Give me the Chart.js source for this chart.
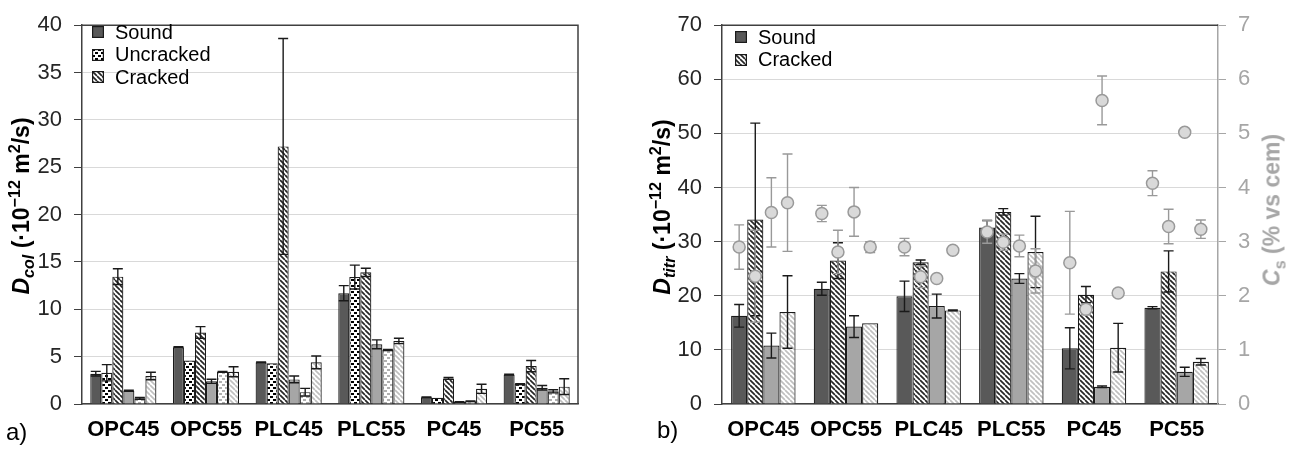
<!DOCTYPE html>
<html>
<head>
<meta charset="utf-8">
<title>Chloride diffusion coefficients</title>
<script src="https://cdn.jsdelivr.net/npm/chart.js@4.4.1/dist/chart.umd.min.js"></script>
<style>
  body { margin: 0; width: 1295px; height: 451px; background: #fff; overflow: hidden;
         font-family: "Liberation Sans", Arial, sans-serif; }
  .panel { position: absolute; top: 0; height: 451px; }
  #panelA { left: 0; width: 640px; }
  #panelB { left: 640px; width: 655px; }
  .ytitle { position: absolute; white-space: nowrap; font-weight: bold; font-size: 23px; line-height: 1;
            transform: translate(-50%, -50%) rotate(-90deg); color: #000; }
  .ytitle sub, .ytitle sup { font-size: 70%; line-height: 0; }
  .tag { position: absolute; font-size: 24px; line-height: 1; }
  .legend { position: absolute; font-size: 20px; color: #000; }
  .legend div { display: flex; align-items: center; height: 22.5px; white-space: nowrap; }
  .legend canvas { margin-right: 11px; }
</style>
</head>
<body>
<div class="panel" id="panelA">
  <canvas id="chartA" width="640" height="451"></canvas>
  <div class="ytitle" style="left:21px; top:206px;"><i>D</i><sub><i>col</i></sub> (·10<sup>−12</sup> m<sup>2</sup>/s)</div>
  <div class="legend" id="legendA" style="left:92px; top:21px;"></div>
  <div class="tag" style="left:6px; top:420px;">a)</div>
</div>
<div class="panel" id="panelB">
  <canvas id="chartB" width="655" height="451"></canvas>
  <div class="ytitle" style="left:22px; top:207px;"><i>D</i><sub><i>titr</i></sub> (·10<sup>−12</sup> m<sup>2</sup>/s)</div>
  <div class="ytitle" style="left:632px; top:210px; color:#a6a6a6;"><i>C</i><sub>s</sub> (% vs cem)</div>
  <div class="legend" id="legendB" style="left:95px; top:26px;"></div>
  <div class="tag" style="left:17px; top:418px;">b)</div>
</div>

<script>
const FONT = "'Liberation Sans', Arial, sans-serif";
Chart.defaults.font.family = FONT;
Chart.defaults.animation = false;

const groups = ['OPC45', 'OPC55', 'PLC45', 'PLC55', 'PC45', 'PC55'];

// a) D_col, dark bars and light bars (same three states)
const colSound        = [3.2, 6.0, 4.4, 11.7, 0.7, 3.1];
const colSoundErr     = [0.24, 0.05, 0.05, 0.8, 0.05, 0.05];
const colUncracked    = [3.3, 4.6, 4.3, 13.4, 0.66, 2.1];
const colUncrackedErr = [0.86, 0, 0, 1.26, 0, 0.05];
const colCracked      = [13.45, 7.55, 27.2, 13.9, 2.7, 4.0];
const colCrackedErr   = [0.83, 0.62, 11.4, 0.43, 0.1, 0.6];
const colSound2       = [1.4, 2.4, 2.6, 6.3, 0.2, 1.72];
const colSound2Err    = [0.07, 0.22, 0.35, 0.47, 0.03, 0.24];
const colUncracked2   = [0.6, 3.4, 1.25, 5.7, 0.3, 1.34];
const colUncracked2Err= [0.1, 0.05, 0.4, 0.05, 0.03, 0.17];
const colCracked2     = [2.96, 3.4, 4.4, 6.66, 1.6, 1.83];
const colCracked2Err  = [0.4, 0.53, 0.67, 0.28, 0.48, 0.83];

// b) D_titr bars
const titrSound       = [16.3, 21.3, 19.9, 32.6, 10.3, 17.8];
const titrSoundErr    = [2.1, 1.2, 2.8, 1.3, 3.8, 0.2];
const titrCracked     = [34.1, 26.5, 26.2, 35.5, 20.2, 24.5];
const titrCrackedErr  = [17.8, 3.3, 0.4, 0.6, 1.5, 3.8];
const titrSound2      = [10.8, 14.3, 18.1, 23.2, 3.2, 5.95];
const titrSound2Err   = [2.3, 2.0, 2.2, 0.9, 0.15, 0.85];
const titrCracked2    = [17.0, 14.9, 17.3, 28.1, 10.4, 7.8];
const titrCracked2Err = [6.7, 0, 0.1, 6.6, 4.5, 0.6];

// b) surface chloride Cs (right axis), one point over each bar
const csSound         = [2.9, 3.52, 2.9, 3.18, 2.61, 4.08];
const csSoundErr      = [0.41, 0.15, 0.16, 0.21, 0.95, 0.23];
const csCracked       = [2.36, 2.81, 2.35, 2.99, 1.75, 3.28];
const csCrackedErr    = [0.85, 0.4, 0.2, 0.15, 0.1, 0.32];
const csSound2        = [3.54, 3.55, 2.32, 2.92, 5.61, 5.02];
const csSound2Err     = [0.64, 0.45, 0, 0.2, 0.45, 0];
const csCracked2      = [3.72, 2.9, 2.84, 2.46, 2.05, 3.23];
const csCracked2Err   = [0.9, 0.1, 0.05, 0.41, 0, 0.17];

const yTicksA = { min: 0, max: 40, step: 5 };
const yTicksB = { min: 0, max: 70, step: 5 };
const yTicksCs = { min: 0, max: 7, step: 0.5 };

const DARK = '#595959';
const LIGHT = '#a6a6a6';
const EDGE = '#1a1a1a';
const AXIS = '#404040';
const GRID = '#d9d9d9';

// Fill patterns
function hatch(color) {
  const c = document.createElement('canvas');
  c.width = c.height = 5;
  const g = c.getContext('2d');
  g.fillStyle = '#fff';
  g.fillRect(0, 0, 5, 5);
  g.strokeStyle = color;
  g.lineWidth = 1.7;
  g.beginPath();
  for (const k of [-5, 0, 5]) {
    g.moveTo(k, 0);
    g.lineTo(k + 5, 5);
  }
  g.stroke();
  return g.createPattern(c, 'repeat');
}

function dots(color) {
  const c = document.createElement('canvas');
  c.width = c.height = 6;
  const g = c.getContext('2d');
  g.fillStyle = '#fff';
  g.fillRect(0, 0, 6, 6);
  g.fillStyle = color;
  g.fillRect(0, 0, 3, 2);
  g.fillRect(3, 3, 3, 2);
  return g.createPattern(c, 'repeat');
}

// Error bars and Cs markers, drawn on top of the bars
const errorBars = {
  id: 'errorBars',
  afterDatasetsDraw(chart) {
    const ctx = chart.ctx;
    const cap = 5;
    const sets = chart.data.datasets.map((ds, i) => ({ ds, meta: chart.getDatasetMeta(i) }));

    function drawErrors(ds, meta) {
      if (!ds.errors) return;
      const scale = chart.scales[meta.yAxisID];
      ctx.save();
      ctx.strokeStyle = ds.errorColor || '#1a1a1a';
      ctx.lineWidth = 1.4;
      meta.data.forEach((bar, j) => {
        const e = ds.errors[j];
        if (!e) return;
        const top = scale.getPixelForValue(ds.data[j] + e);
        const bot = scale.getPixelForValue(ds.data[j] - e);
        ctx.beginPath();
        ctx.moveTo(bar.x, top); ctx.lineTo(bar.x, bot);
        ctx.moveTo(bar.x - cap, top); ctx.lineTo(bar.x + cap, top);
        ctx.moveTo(bar.x - cap, bot); ctx.lineTo(bar.x + cap, bot);
        ctx.stroke();
      });
      ctx.restore();
    }

    sets.filter(s => !s.ds.marker).forEach(s => drawErrors(s.ds, s.meta));
    sets.filter(s => s.ds.marker).forEach(s => drawErrors(s.ds, s.meta));
    sets.filter(s => s.ds.marker).forEach(({ ds, meta }) => {
      ctx.save();
      ctx.fillStyle = '#d9d9d9';
      ctx.strokeStyle = '#999';
      ctx.lineWidth = 1.5;
      meta.data.forEach(bar => {
        ctx.beginPath();
        ctx.arc(bar.x, bar.y, 6, 0, Math.PI * 2);
        ctx.fill();
        ctx.stroke();
      });
      ctx.restore();
    });
  }
};

// Plot frame (top and optional right edge)
const frame = {
  id: 'frame',
  afterDatasetsDraw(chart, args, opts) {
    const { ctx, chartArea: a } = chart;
    ctx.save();
    ctx.strokeStyle = AXIS;
    ctx.lineWidth = 1.5;
    ctx.beginPath();
    ctx.moveTo(a.left, a.top);
    ctx.lineTo(a.right, a.top);
    if (opts.right) ctx.lineTo(a.right, a.bottom);
    ctx.stroke();
    ctx.restore();
  }
};

function bar(label, data, errors, fill, stack) {
  return {
    label, data, errors, stack,
    backgroundColor: fill,
    borderColor: EDGE,
    borderWidth: 1.2
  };
}

function xAxis() {
  return {
    grid: { display: false, drawTicks: false },
    border: { color: AXIS, width: 1.5 },
    ticks: { color: '#000', padding: 13, font: { size: 22, weight: 'bold' } },
    afterFit: s => { s.height = 47; }
  };
}

function yAxis(t, minorOnly) {
  return {
    min: t.min, max: t.max, stacked: false,
    border: { color: AXIS, width: 1.5 },
    grid: {
      color: c => (c.tick.value % (minorOnly ? 10 : 5) === 0 && c.tick.value < t.max) ? GRID : 'transparent',
      tickColor: AXIS, tickLength: 8, lineWidth: 1
    },
    ticks: {
      stepSize: t.step, color: '#262626', padding: 12, font: { size: 22 },
      callback: v => (minorOnly && v % 10 !== 0) ? '' : v
    },
    afterFit: s => { s.width = 82; }
  };
}

// Legend inside the plot, built from the first datasets of a chart
function buildLegend(chart, count, id) {
  const box = document.getElementById(id);
  chart.data.datasets.slice(0, count).forEach(ds => {
    const row = document.createElement('div');
    const sw = document.createElement('canvas');
    sw.width = sw.height = 12;
    const g = sw.getContext('2d');
    g.fillStyle = ds.backgroundColor;
    g.fillRect(0, 0, 12, 12);
    g.strokeStyle = EDGE;
    g.lineWidth = 1.2;
    g.strokeRect(0.6, 0.6, 10.8, 10.8);
    const txt = document.createElement('span');
    txt.textContent = ds.label;
    row.appendChild(sw);
    row.appendChild(txt);
    box.appendChild(row);
  });
}

const chartA = new Chart(document.getElementById('chartA'), {
  type: 'bar',
  data: {
    labels: groups,
    datasets: [
      bar('Sound', colSound, colSoundErr, DARK),
      bar('Uncracked', colUncracked, colUncrackedErr, dots('#000')),
      bar('Cracked', colCracked, colCrackedErr, hatch('#262626')),
      bar('Sound (2)', colSound2, colSound2Err, LIGHT),
      bar('Uncracked (2)', colUncracked2, colUncracked2Err, dots('#b0b0b0')),
      bar('Cracked (2)', colCracked2, colCracked2Err, hatch('#c0c0c0'))
    ]
  },
  options: {
    responsive: false,
    datasets: { bar: { categoryPercentage: 0.8, barPercentage: 1 } },
    layout: { padding: { top: 19, right: 62, left: 0, bottom: 0 } },
    scales: { x: xAxis(), y: yAxis(yTicksA, false) },
    plugins: { legend: { display: false }, tooltip: { enabled: false }, frame: { right: true } }
  },
  plugins: [errorBars, frame]
});
buildLegend(chartA, 3, 'legendA');

function marker(label, data, errors, stack) {
  return {
    label, data, errors, stack, marker: true,
    yAxisID: 'y1',
    errorColor: '#999',
    backgroundColor: 'transparent',
    borderWidth: 0
  };
}

const chartB = new Chart(document.getElementById('chartB'), {
  type: 'bar',
  data: {
    labels: groups,
    datasets: [
      bar('Sound', titrSound, titrSoundErr, DARK, 's0'),
      bar('Cracked', titrCracked, titrCrackedErr, hatch('#262626'), 's1'),
      bar('Sound (2)', titrSound2, titrSound2Err, LIGHT, 's2'),
      bar('Cracked (2)', titrCracked2, titrCracked2Err, hatch('#c0c0c0'), 's3'),
      marker('Cs sound', csSound, csSoundErr, 's0'),
      marker('Cs cracked', csCracked, csCrackedErr, 's1'),
      marker('Cs sound (2)', csSound2, csSound2Err, 's2'),
      marker('Cs cracked (2)', csCracked2, csCracked2Err, 's3')
    ]
  },
  options: {
    responsive: false,
    datasets: { bar: { categoryPercentage: 0.78, barPercentage: 1 } },
    layout: { padding: { top: 19, right: 0, left: 0, bottom: 0 } },
    scales: {
      x: xAxis(),
      y: yAxis(yTicksB, true),
      y1: {
        position: 'right', min: yTicksCs.min, max: yTicksCs.max, stacked: false,
        border: { color: LIGHT, width: 1.5 },
        grid: { drawOnChartArea: false, color: LIGHT, tickLength: 8 },
        ticks: {
          stepSize: yTicksCs.step, color: LIGHT, padding: 12, font: { size: 22 },
          callback: v => Number.isInteger(v) ? v : ''
        },
        afterFit: s => { s.width = 77; }
      }
    },
    plugins: { legend: { display: false }, tooltip: { enabled: false }, frame: { right: false } }
  },
  plugins: [errorBars, frame]
});
buildLegend(chartB, 2, 'legendB');
</script>
</body>
</html>
